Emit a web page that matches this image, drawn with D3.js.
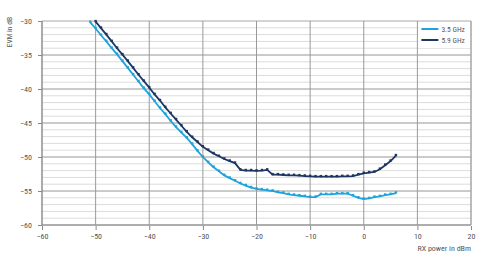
<!DOCTYPE html>
<html>
<head>
<meta charset="utf-8">
<script src="https://cdn.jsdelivr.net/npm/d3@7"></script>
<style>
  body { margin:0; background:#fff; }
  text { font-family: "Liberation Sans Narrow", "Roboto Condensed", "Liberation Sans", sans-serif; fill:#555; }
</style>
</head>
<body>
<svg></svg>
<script>
// data
var xLight = [-51,-50,-49,-48,-47,-46,-45,-44,-43,-42,-41,-40,-39,-38,-37,-36,-35,-34,-33,-32,-31,-30,
  -29,-28,-27,-26,-25,-24,-23,-22,-21,-20,-19,-18,-17,-16,-15,-14,-13,-12,-11,-10,-9,-8,-7,-6,-5,-4,-3,-2,-1,0,1,2,3,4,5,6];
var evmLight = [-30.2,-31.1,-32.1,-33.0,-34.0,-34.9,-35.9,-36.9,-37.9,-38.9,-39.9,-40.8,-41.8,-42.8,-43.7,-44.7,-45.6,-46.4,-47.2,-48.1,-49.1,-50.0,
  -50.8,-51.5,-52.1,-52.7,-53.1,-53.5,-53.9,-54.2,-54.5,-54.7,-54.8,-54.9,-55.0,-55.2,-55.3,-55.5,-55.6,-55.7,-55.8,-55.9,-55.9,-55.5,-55.5,-55.5,-55.4,-55.4,-55.4,-55.7,-56.0,-56.2,-56.1,-55.9,-55.8,-55.6,-55.5,-55.3];

var xDark = [-50,-49,-48,-47,-46,-45,-44,-43,-42,-41,-40,-39,-38,-37,-36,-35,-34,-33,-32,-31,-30,
  -29,-28,-27,-26,-25,-24,-23,-22,-21,-20,-19,-18,-17,-16,-15,-14,-13,-12,-11,-10,-9,-8,-7,-6,-5,-4,-3,-2,-1,0,1,2,3,4,5,6];
var evmDark = [-30.1,-31.05,-32.0,-33.0,-34.0,-34.95,-35.9,-36.9,-37.9,-38.85,-39.8,-40.8,-41.7,-42.7,-43.6,-44.5,-45.4,-46.3,-47.1,-47.8,-48.5,
  -49.0,-49.5,-49.9,-50.3,-50.6,-50.9,-51.9,-52.0,-52.0,-52.05,-52.0,-51.9,-52.6,-52.6,-52.65,-52.7,-52.7,-52.75,-52.8,-52.85,-52.9,-52.9,-52.9,-52.9,-52.9,-52.85,-52.85,-52.8,-52.6,-52.4,-52.3,-52.2,-51.8,-51.2,-50.6,-49.8];

var seriesNames = ["3.5 GHz","5.9 GHz"];
var seriesColors = ["#1fa3dd","#1c3763"];
var xTicks = [-60,-50,-40,-30,-20,-10,0,10,20];
var yTicks = [-30,-35,-40,-45,-50,-55,-60];

var svgwidth = 480;
var svgheight = 270;
var margins = {top:21, bottom:45, left:42, right:9};
var width = svgwidth - margins.left - margins.right;
var height = svgheight - margins.top - margins.bottom;

var svg = d3.select('svg').attr('width',svgwidth).attr('height',svgheight);

var xScale = d3.scaleLinear().domain([-60,20]).range([0,width]);
var yScale = d3.scaleLinear().domain([-60,-30]).range([height,0]);

var plot = svg.append('g')
  .attr('transform','translate('+margins.left+','+margins.top+')');

// minor horizontal grid every 1 dB
plot.selectAll('line.minor')
  .data(d3.range(-59,-30))
  .enter().append('line')
  .attr('x1',0).attr('x2',width)
  .attr('y1',function(d){return yScale(d);})
  .attr('y2',function(d){return yScale(d);})
  .attr('stroke','#dcdcdc').attr('stroke-width',1);

// major horizontal grid
plot.selectAll('line.major')
  .data(yTicks)
  .enter().append('line')
  .attr('x1',0).attr('x2',width)
  .attr('y1',function(d){return yScale(d);})
  .attr('y2',function(d){return yScale(d);})
  .attr('stroke','#a8a8a8').attr('stroke-width',1);

// vertical grid
plot.selectAll('line.vert')
  .data(xTicks)
  .enter().append('line')
  .attr('x1',function(d){return xScale(d);})
  .attr('x2',function(d){return xScale(d);})
  .attr('y1',0).attr('y2',height)
  .attr('stroke','#9a9a9a').attr('stroke-width',1);

// legend box hides the grid behind it
plot.append('rect')
  .attr('x',xScale(10)+1).attr('y',1)
  .attr('width',width-xScale(10)-2).attr('height',26)
  .attr('fill','#fff');

var series = [
  {x:xLight, y:evmLight, color:seriesColors[0]},
  {x:xDark, y:evmDark, color:seriesColors[1]}
];

var line = d3.line()
  .x(function(d){return xScale(d[0]);})
  .y(function(d){return yScale(d[1]);});

series.forEach(function(s){
  var pts = s.x.map(function(v,i){return [v,s.y[i]];});
  plot.append('path')
    .datum(pts)
    .attr('d',line)
    .attr('fill','none')
    .attr('stroke',s.color)
    .attr('stroke-width',1.8);
  plot.selectAll(null)
    .data(pts)
    .enter().append('rect')
    .attr('x',function(d){return xScale(d[0])-1.2;})
    .attr('y',function(d){return yScale(d[1])-1.8;})
    .attr('width',2.4).attr('height',2.4)
    .attr('fill',s.color);
});

// axes
var xAxis = d3.axisBottom(xScale).tickValues(xTicks).tickSize(4).tickPadding(3);
svg.append('g')
  .attr('transform','translate('+margins.left+','+(margins.top+height+1)+')')
  .call(xAxis)
  .call(function(g){
    g.select('.domain').remove();
    g.selectAll('.tick line').attr('stroke','#888');
    g.selectAll('.tick text').attr('font-size',8).attr('fill','#555');
  });

var yAxis = d3.axisLeft(yScale).tickValues(yTicks).tickSize(4).tickPadding(6);
svg.append('g')
  .attr('transform','translate('+margins.left+','+margins.top+')')
  .call(yAxis)
  .call(function(g){
    g.select('.domain').remove();
    g.selectAll('.tick line').attr('stroke','#888');
    g.selectAll('.tick text').attr('font-size',8).attr('fill','#555');
  });

// frame lines
plot.append('line').attr('x1',0).attr('x2',0).attr('y1',0).attr('y2',height)
  .attr('stroke','#888');
plot.append('line').attr('x1',0).attr('x2',width).attr('y1',height).attr('y2',height)
  .attr('stroke','#888');
plot.append('line').attr('x1',width).attr('x2',width).attr('y1',0).attr('y2',height)
  .attr('stroke','#aaa');

// axis titles
svg.append('text')
  .attr('transform','translate(12,17) rotate(-90)')
  .attr('text-anchor','end')
  .attr('font-size',7.5)
  .text('EVM in dB');

svg.append('text')
  .attr('x',margins.left+width).attr('y',251)
  .attr('text-anchor','end')
  .attr('font-size',8)
  .text('RX power in dBm');

// legend
var legend = svg.append('g')
  .attr('transform','translate('+(margins.left+xScale(10)+4)+','+(margins.top+8)+')');
seriesNames.forEach(function(n,i){
  legend.append('line')
    .attr('x1',0).attr('x2',17)
    .attr('y1',i*11).attr('y2',i*11)
    .attr('stroke',seriesColors[i]).attr('stroke-width',2);
  legend.append('text')
    .attr('x',20).attr('y',i*11+2.5)
    .attr('font-size',7.5)
    .text(n);
});
</script>
</body>
</html>
